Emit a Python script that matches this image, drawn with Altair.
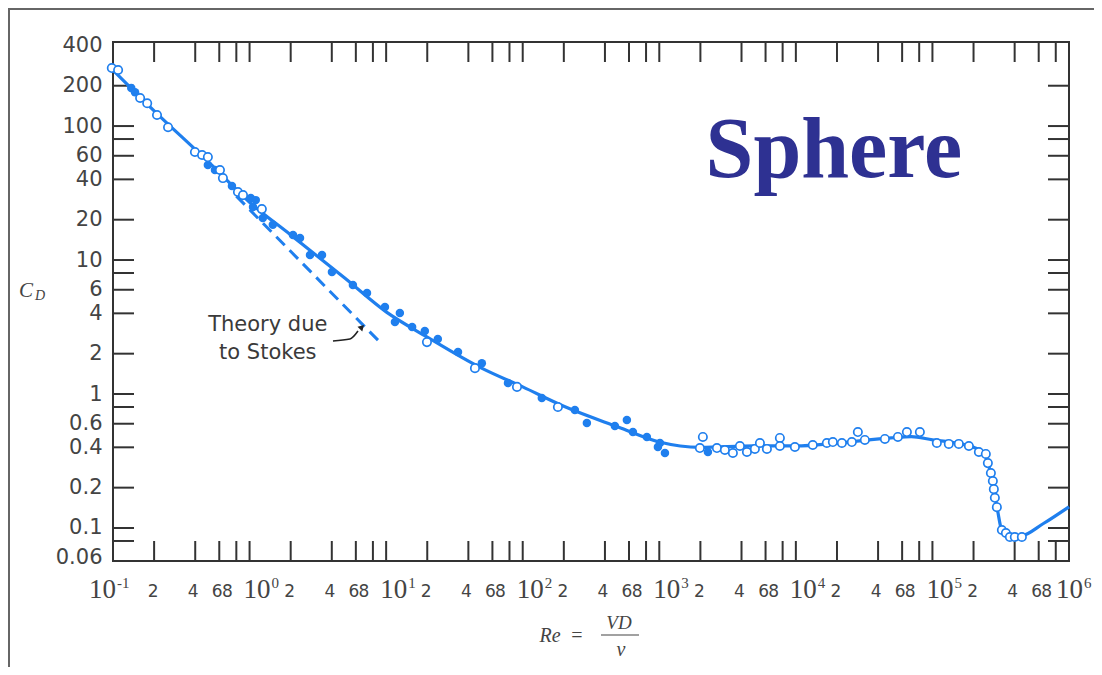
import altair as alt
import pandas as pd

# ---------------- data ----------------
curve_re = [0.1, 0.2, 0.5, 1, 2, 5, 10, 20, 50, 100, 200, 500, 1000, 2000, 5000,
            1e4, 2e4, 5e4, 7e4, 1e5, 1.5e5, 2e5, 2.4e5, 2.55e5, 2.7e5, 2.85e5,
            3.0e5, 3.2e5, 3.5e5, 4.0e5, 4.5e5, 6.5e5, 1e6]
curve_cd = [262, 130, 54, 27, 15.4, 7.3, 4.1, 2.66, 1.56, 1.13, 0.81, 0.567, 0.438, 0.40, 0.41,
            0.41, 0.43, 0.47, 0.48, 0.455, 0.43, 0.40, 0.36, 0.30, 0.25, 0.18,
            0.135, 0.098, 0.089, 0.086, 0.087, 0.108, 0.144]

open_re = [0.098, 0.109, 0.158, 0.178, 0.210, 0.253, 0.398, 0.449, 0.495, 0.607, 0.638, 0.822,
           0.895, 1.23, 19.9, 44.7, 90.8, 181, 2085, 1983, 2642, 3022, 3458, 3893, 4383, 5012,
           5456, 6138, 7638, 7638, 9840, 13300, 16860, 18660, 21730, 25700, 28440, 32000, 44870,
           55850, 65010, 80910, 107700, 131800, 156000, 184900, 218800, 246000, 254600, 267900,
           276900, 281600, 286500, 296300, 322400, 345100, 369000, 401000, 451800]
open_cd = [271, 262, 162, 148, 121, 98, 64, 60.8, 58.7, 47, 40.9, 32.2,
           30.5, 24.0, 2.44, 1.56, 1.13, 0.80, 0.478, 0.395, 0.395, 0.382, 0.363, 0.409, 0.369, 0.389,
           0.431, 0.389, 0.470, 0.409, 0.402, 0.416, 0.431, 0.438, 0.431, 0.438, 0.520, 0.454, 0.462,
           0.478, 0.520, 0.520, 0.431, 0.424, 0.424, 0.409, 0.369, 0.357, 0.305, 0.257,
           0.224, 0.195, 0.168, 0.143, 0.0966, 0.0918, 0.0857, 0.0857, 0.0857]

filled_re = [0.136, 0.145, 0.495, 0.558, 0.743, 1.02, 1.11, 1.06, 1.25, 1.48, 2.08, 2.34, 2.77,
             3.39, 4.01, 5.71, 7.24, 9.80, 12.6, 11.6, 15.5, 19.2, 23.9, 33.6, 50.2, 78.0, 138,
             241, 295, 473, 579, 641, 811, 977, 1100, 1011, 2270]
filled_cd = [192, 179, 51.2, 47, 35.7, 29.0, 28.0, 24.9, 20.6, 18.3, 15.4, 14.6, 10.9,
             10.9, 8.14, 6.51, 5.67, 4.46, 4.02, 3.45, 3.16, 2.95, 2.57, 2.06, 1.70, 1.21, 0.933,
             0.760, 0.608, 0.577, 0.640, 0.520, 0.478, 0.402, 0.363, 0.431, 0.369]

stokes_re = [0.8, 9.0]
stokes_cd = [30, 2.44]

arrow_re = [4.08, 5.43, 6.22]
arrow_cd = [2.49, 2.57, 2.95]
arrow_head_re = [6.65]
arrow_head_cd = [3.16]

# axis ticks and labels
ytick_vals = [200, 100, 80, 60, 40, 20, 10, 8, 6, 4, 2, 1, 0.8, 0.6, 0.4, 0.2, 0.1, 0.08]
ylabel_vals = [400, 200, 100, 60, 40, 20, 10, 6, 4, 2, 1, 0.6, 0.4, 0.2, 0.1, 0.06]
decades = [0.1, 1, 10, 100, 1000, 1e4, 1e5, 1e6]
decade_exp = ["-1", "0", "1", "2", "3", "4", "5", "6"]
mantissas = ["2", "4", "6", "8"]
xtick_vals = [m * d for d in decades[:-1] for m in (1, 2, 4, 6, 8)] + [1e6]

# ---------------- styling ----------------
BLUE = "#1f7fee"
INK = "#333333"
LABEL = "#444444"
W, H = 956, 519

xscale = alt.Scale(type="log", domain=[0.1, 1e6], nice=False)
yscale = alt.Scale(type="log", domain=[0.0567, 424], nice=False)
yaxis = alt.Axis(values=ylabel_vals, format="~g", title=None, ticks=False, domain=False,
                 grid=False, labelFont="DejaVu Sans", labelFontSize=21, labelColor=LABEL,
                 labelPadding=11, labelOverlap=False)


def X(f):
    return alt.X(f"{f}:Q", scale=xscale, axis=None)


def Y(f):
    return alt.Y(f"{f}:Q", scale=yscale, axis=yaxis)


curve_df = pd.DataFrame({"re": curve_re, "cd": curve_cd})
open_df = pd.DataFrame({"re": open_re, "cd": open_cd})
filled_df = pd.DataFrame({"re": filled_re, "cd": filled_cd})
stokes_df = pd.DataFrame({"re": stokes_re, "cd": stokes_cd})
arrow_df = pd.DataFrame({"re": arrow_re, "cd": arrow_cd, "o": list(range(len(arrow_re)))})
head_df = pd.DataFrame({"re": arrow_head_re, "cd": arrow_head_cd})
ytick_df = pd.DataFrame({"v": ytick_vals})
xtick_df = pd.DataFrame({"v": xtick_vals})
dec_all = pd.DataFrame({"re": decades, "base": ["10"] * len(decades), "exp": decade_exp})

one = pd.DataFrame({"k": [0]})

layers = []

# outer frame (decoration)
layers.append(alt.Chart(one).mark_rect(fillOpacity=0, stroke="#666666", strokeWidth=2).encode(
    x=alt.value(-104), x2=alt.value(W + 80), y=alt.value(-33), y2=alt.value(H + 200)))

# inward ticks
tick_style = dict(color=INK, strokeWidth=2)
layers.append(alt.Chart(ytick_df).mark_rule(**tick_style).encode(
    y=Y("v"), x=alt.value(0), x2=alt.value(21)))
layers.append(alt.Chart(ytick_df).mark_rule(**tick_style).encode(
    y=Y("v"), x=alt.value(W - 21), x2=alt.value(W)))
layers.append(alt.Chart(xtick_df).mark_rule(**tick_style).encode(
    x=X("v"), y=alt.value(0), y2=alt.value(20)))
layers.append(alt.Chart(xtick_df).mark_rule(**tick_style).encode(
    x=X("v"), y=alt.value(H - 20), y2=alt.value(H)))

# x tick labels: "10" with exponent, and mantissa digits
groups = [(dec_all.iloc[:1], -24, 4), (dec_all.iloc[1:-1], -6, 22), (dec_all.iloc[-1:], -13, 15)]
for gdf, base_dx, exp_dx in groups:
    layers.append(alt.Chart(gdf).mark_text(
        font="Liberation Serif", fontSize=27, align="left", baseline="alphabetic", dx=base_dx,
        color=LABEL).encode(x=X("re"), y=alt.value(H + 37), text="base:N"))
    layers.append(alt.Chart(gdf).mark_text(
        font="Liberation Serif", fontSize=15, align="left", baseline="alphabetic", dx=exp_dx,
        color=LABEL).encode(x=X("re"), y=alt.value(H + 27), text="exp:N"))
mant_dx = {"2": -1, "4": -2, "6": -2, "8": -9}
for m in mantissas:
    mdf = pd.DataFrame({"re": [float(m) * d for d in decades[:-1]],
                        "t": [m] * (len(decades) - 1)})
    layers.append(alt.Chart(mdf).mark_text(
        font="DejaVu Sans", fontSize=17, align="center", baseline="alphabetic",
        dx=mant_dx[m], color=LABEL).encode(x=X("re"), y=alt.value(H + 36), text="t:N"))

# axis titles
serif_it = dict(font="Liberation Serif", fontStyle="italic", color=LABEL, baseline="alphabetic")
layers.append(alt.Chart(pd.DataFrame({"t": ["Re"]})).mark_text(
    fontSize=20, align="center", **serif_it).encode(
    x=alt.value(437), y=alt.value(H + 81), text="t:N"))
layers.append(alt.Chart(pd.DataFrame({"t": ["="]})).mark_text(
    font="Liberation Serif", fontSize=20, align="center", baseline="alphabetic",
    color=LABEL).encode(x=alt.value(464), y=alt.value(H + 81), text="t:N"))
layers.append(alt.Chart(pd.DataFrame({"t": ["VD"]})).mark_text(
    fontSize=19, align="center", **serif_it).encode(
    x=alt.value(506), y=alt.value(H + 68), text="t:N"))
layers.append(alt.Chart(one).mark_rule(color=LABEL, strokeWidth=1.2).encode(
    x=alt.value(488), x2=alt.value(526), y=alt.value(H + 74)))
layers.append(alt.Chart(pd.DataFrame({"t": ["ν"]})).mark_text(
    fontSize=20, align="center", **serif_it).encode(
    x=alt.value(508), y=alt.value(H + 95), text="t:N"))
layers.append(alt.Chart(pd.DataFrame({"t": ["C"]})).mark_text(
    fontSize=21, align="center", **serif_it).encode(
    x=alt.value(-87), y=alt.value(255), text="t:N"))
layers.append(alt.Chart(pd.DataFrame({"t": ["D"]})).mark_text(
    fontSize=14, align="center", **serif_it).encode(
    x=alt.value(-73), y=alt.value(258), text="t:N"))

# data
layers.append(alt.Chart(stokes_df).mark_line(
    color=BLUE, strokeWidth=3, strokeDash=[12, 7]).encode(x=X("re"), y=Y("cd")))
layers.append(alt.Chart(curve_df).mark_line(
    color=BLUE, strokeWidth=3.2, interpolate="monotone").encode(x=X("re"), y=Y("cd")))
layers.append(alt.Chart(filled_df).mark_point(
    shape="circle", filled=True, color=BLUE, size=72, opacity=1).encode(x=X("re"), y=Y("cd")))
layers.append(alt.Chart(open_df).mark_point(
    shape="circle", filled=True, fill="white", stroke=BLUE, strokeWidth=1.7, size=70,
    opacity=1).encode(x=X("re"), y=Y("cd")))

# annotation
ann = pd.DataFrame({"re": [1.36, 1.36], "cd": [3.27, 2.02], "t": ["Theory due", "to Stokes"]})
layers.append(alt.Chart(ann).mark_text(
    font="DejaVu Sans", fontSize=21, color="#3a3a3a", align="center", baseline="middle").encode(
    x=X("re"), y=Y("cd"), text="t:N"))
layers.append(alt.Chart(arrow_df).mark_line(color="#222222", strokeWidth=1.6,
                                            interpolate="monotone").encode(
    x=X("re"), y=Y("cd"), order="o:Q"))
layers.append(alt.Chart(head_df).mark_point(
    shape="triangle-up", filled=True, color="#222222", size=45, angle=45, opacity=1).encode(
    x=X("re"), y=Y("cd")))

sphere = pd.DataFrame({"re": [18970], "cd": [41.6], "t": ["Sphere"]})
layers.append(alt.Chart(sphere).mark_text(
    font="Liberation Serif", fontSize=86, fontWeight="bold", color="#2e3192",
    align="center", baseline="alphabetic").encode(x=X("re"), y=Y("cd"), text="t:N"))

chart = alt.layer(*layers).properties(
    width=W, height=H,
    autosize=alt.AutoSizeParams(type="none"),
    padding={"left": 105, "top": 34, "right": 25, "bottom": 106},
    background="white",
).configure_view(stroke=INK, strokeWidth=2)

chart.save("out.html", embed_options={"renderer": "svg", "actions": False})
